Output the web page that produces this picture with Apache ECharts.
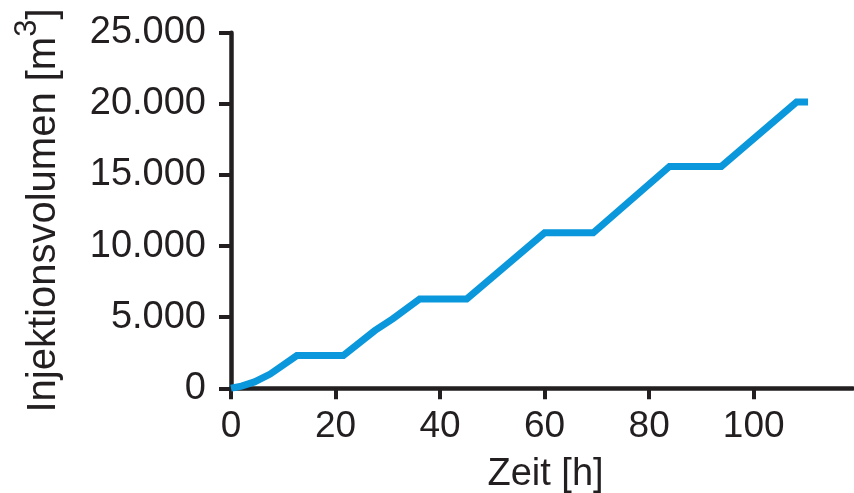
<!DOCTYPE html>
<html>
<head>
<meta charset="utf-8">
<script src="https://cdn.jsdelivr.net/npm/echarts@6/dist/echarts.min.js"></script>
<style>
html,body{margin:0;padding:0;background:#fff;}
#chart{width:854px;height:493px;}
</style>
</head>
<body>
<div id="chart"></div>
<script>
// Time in hours
var hours = [0, 2, 4.5, 7.5, 12.6, 21.5, 27.5, 31, 36.1, 45.1, 60, 69.3, 83.9, 93.8, 108.2, 110.4];
// Cumulative injection volume in m3
var volumes = [0, 150, 450, 1000, 2300, 2300, 4050, 4900, 6280, 6280, 10930, 10930, 15600, 15600, 20120, 20120];
// Tick labels
var xTicks = [0, 20, 40, 60, 80, 100];
var yTicks = [0, 5000, 10000, 15000, 20000, 25000];

var FONT = "'Liberation Sans', Arial, sans-serif";
var INK = '#231f20';

function fmtDE(v) {
  var s = String(Math.round(v));
  return s.replace(/\B(?=(\d{3})+(?!\d))/g, '.');
}

var seriesData = hours.map(function (h, i) { return [h, volumes[i]]; });

var chart = echarts.init(document.getElementById('chart'), null, { renderer: 'canvas' });
chart.setOption({
  animation: false,
  backgroundColor: '#ffffff',
  grid: { left: 231, right: 1, top: 32.7, bottom: 104.7, containLabel: false, outerBoundsMode: 'none' },
  xAxis: {
    type: 'value',
    min: 0,
    max: 119,
    interval: 20,
    name: 'Zeit [h]',
    nameLocation: 'middle',
    nameGap: 67,
    nameTextStyle: { fontFamily: FONT, fontSize: 38, color: INK, padding: [0, 0, 0, 7] },
    axisLine: { show: true, onZero: false, lineStyle: { color: INK, width: 4.5 } },
    axisTick: { show: true, inside: false, length: 11, lineStyle: { color: INK, width: 4 }, customValues: xTicks },
    axisLabel: { fontFamily: FONT, fontSize: 37, color: INK, margin: 20, customValues: xTicks },
    splitLine: { show: false }
  },
  yAxis: {
    type: 'value',
    min: 0,
    max: 25000,
    interval: 5000,
    name: '{a|Injektionsvolumen [m}{sup|3}{a|]}',
    nameLocation: 'middle',
    nameGap: 167,
    nameTextStyle: {
      fontFamily: FONT, fontSize: 40, color: INK,
      rich: {
        a: { fontFamily: FONT, fontSize: 40, color: INK, verticalAlign: 'bottom' },
        sup: { fontFamily: FONT, fontSize: 31, color: INK, verticalAlign: 'bottom', padding: [0, 0, 21, 0] }
      }
    },
    axisLine: { show: true, onZero: false, lineStyle: { color: INK, width: 4.5 } },
    axisTick: { show: true, inside: false, length: 12, lineStyle: { color: INK, width: 4 }, customValues: yTicks },
    axisLabel: {
      fontFamily: FONT, fontSize: 38, color: INK, margin: 25, padding: [5, 0, 0, 0],
      customValues: yTicks,
      formatter: function (v) { return fmtDE(v); }
    },
    splitLine: { show: false }
  },
  series: [{
    type: 'line',
    data: seriesData,
    showSymbol: false,
    symbol: 'none',
    smooth: false,
    lineStyle: { color: '#0a97db', width: 7, join: 'miter' },
    z: 1
  }]
});
</script>
</body>
</html>
